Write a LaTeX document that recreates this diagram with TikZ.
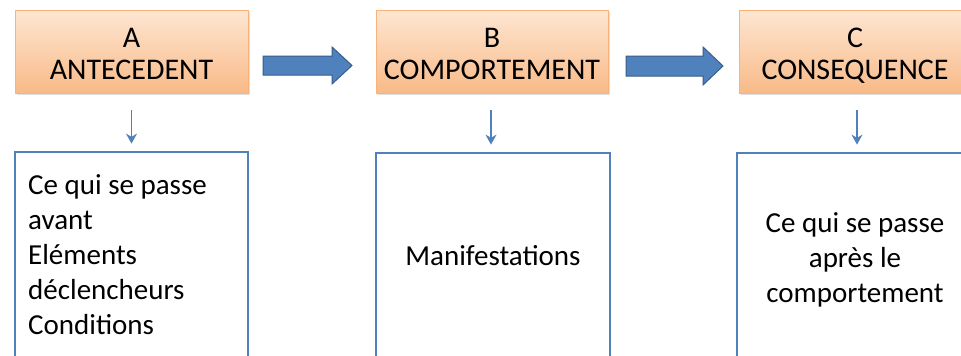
\documentclass[tikz,border=0pt]{standalone}
\usepackage{fontspec}
\setmainfont{Carlito}
\usetikzlibrary{shadows,arrows.meta,calc}
\definecolor{acc}{HTML}{4F81BD}
\definecolor{accdark}{HTML}{385D8A}
\definecolor{orline}{HTML}{F9B27A}
\definecolor{ortop}{HTML}{FDE6D2}
\definecolor{orbot}{HTML}{F9BA88}
\tikzset{
  titlebox/.style={draw=orline, line width=0.8pt, top color=ortop, bottom color=orbot,
    drop shadow={opacity=0.25, shadow xshift=1.5pt, shadow yshift=-2pt}, inner sep=0pt},
  titletext/.style={align=center, inner sep=0pt, font=\fontsize{30}{32}\selectfont},
  bodybox/.style={draw=acc, line width=2.8pt, fill=white, inner sep=0pt},
  bodytext/.style={inner sep=0pt, font=\fontsize{29}{35}\selectfont},
  smallarrow/.style={draw=acc, line width=1.4pt, -{Stealth[length=10pt,width=11pt]}},
  bigarrow/.style={fill=acc, draw=accdark, line width=1pt, line join=miter}
}
\begin{document}
\begin{tikzpicture}[x=1pt,y=-1pt]
\useasboundingbox (0,0) rectangle (961,356);
\clip (0,0) rectangle (961,356);
\fill[white] (0,0) rectangle (961,356);
% top boxes
\node[titlebox, minimum width=233pt, minimum height=83pt] (ta) at (131.5,51.5) {};
\node[titlebox, minimum width=232pt, minimum height=83pt] (tb) at (492,51.5) {};
\node[titlebox, minimum width=236pt, minimum height=83pt] (tc) at (857,51.5) {};
\node[titletext] (tta) at (131.5,58.5) {A\\ANTECEDENT\strut};
\node[titletext] (ttb) at (492,58.5) {B\\COMPORTEMENT\strut};
\node[titletext] (ttc) at (855,58.5) {C\\CONSEQUENCE\strut};
% bottom boxes
\node[bodybox, minimum width=233pt, minimum height=220pt] (ba) at (131.5,262) {};
\node[bodybox, minimum width=234pt, minimum height=220pt] (bb) at (493,263) {};
\node[bodybox, minimum width=240pt, minimum height=220pt] (bc) at (857,263) {};
% texts
\node[bodytext, anchor=north west, align=left] (txa) at (28,174)
  {Ce qui se passe\\avant\\Eléments\\déclencheurs\\Conditions};
\node[bodytext, anchor=base] (txb) at (493,265) {Manifestations};
\node[bodytext, align=center] (txc) at (855,259.5) {Ce qui se passe\\après le\\comportement};
% small arrows
\draw[smallarrow, shorten <=17pt, shorten >=7pt] (ta.south) -- (ta.south |- ba.north);
\draw[smallarrow, shorten <=17pt, shorten >=7pt] ([xshift=-1pt]tb.south) -- ([xshift=-1pt]tb.south |- bb.north);
\draw[smallarrow, shorten <=17pt, shorten >=7pt] (tc.south) -- (tc.south |- bc.north);
% big arrows
\path (263,65.5) coordinate (a1s) (352,65.5) coordinate (a1t);
\draw[bigarrow] ($(a1s)+(0,-9.5)$) -- ($(a1t)+(-20,-9.5)$) -- ($(a1t)+(-20,-18.5)$) -- (a1t)
  -- ($(a1t)+(-20,18.5)$) -- ($(a1t)+(-20,9.5)$) -- ($(a1s)+(0,9.5)$) -- cycle;
\path (626,66) coordinate (a2s) (723,66) coordinate (a2t);
\draw[bigarrow] ($(a2s)+(0,-10)$) -- ($(a2t)+(-20,-10)$) -- ($(a2t)+(-20,-19)$) -- (a2t)
  -- ($(a2t)+(-20,19)$) -- ($(a2t)+(-20,10)$) -- ($(a2s)+(0,10)$) -- cycle;
\end{tikzpicture}
\end{document}
